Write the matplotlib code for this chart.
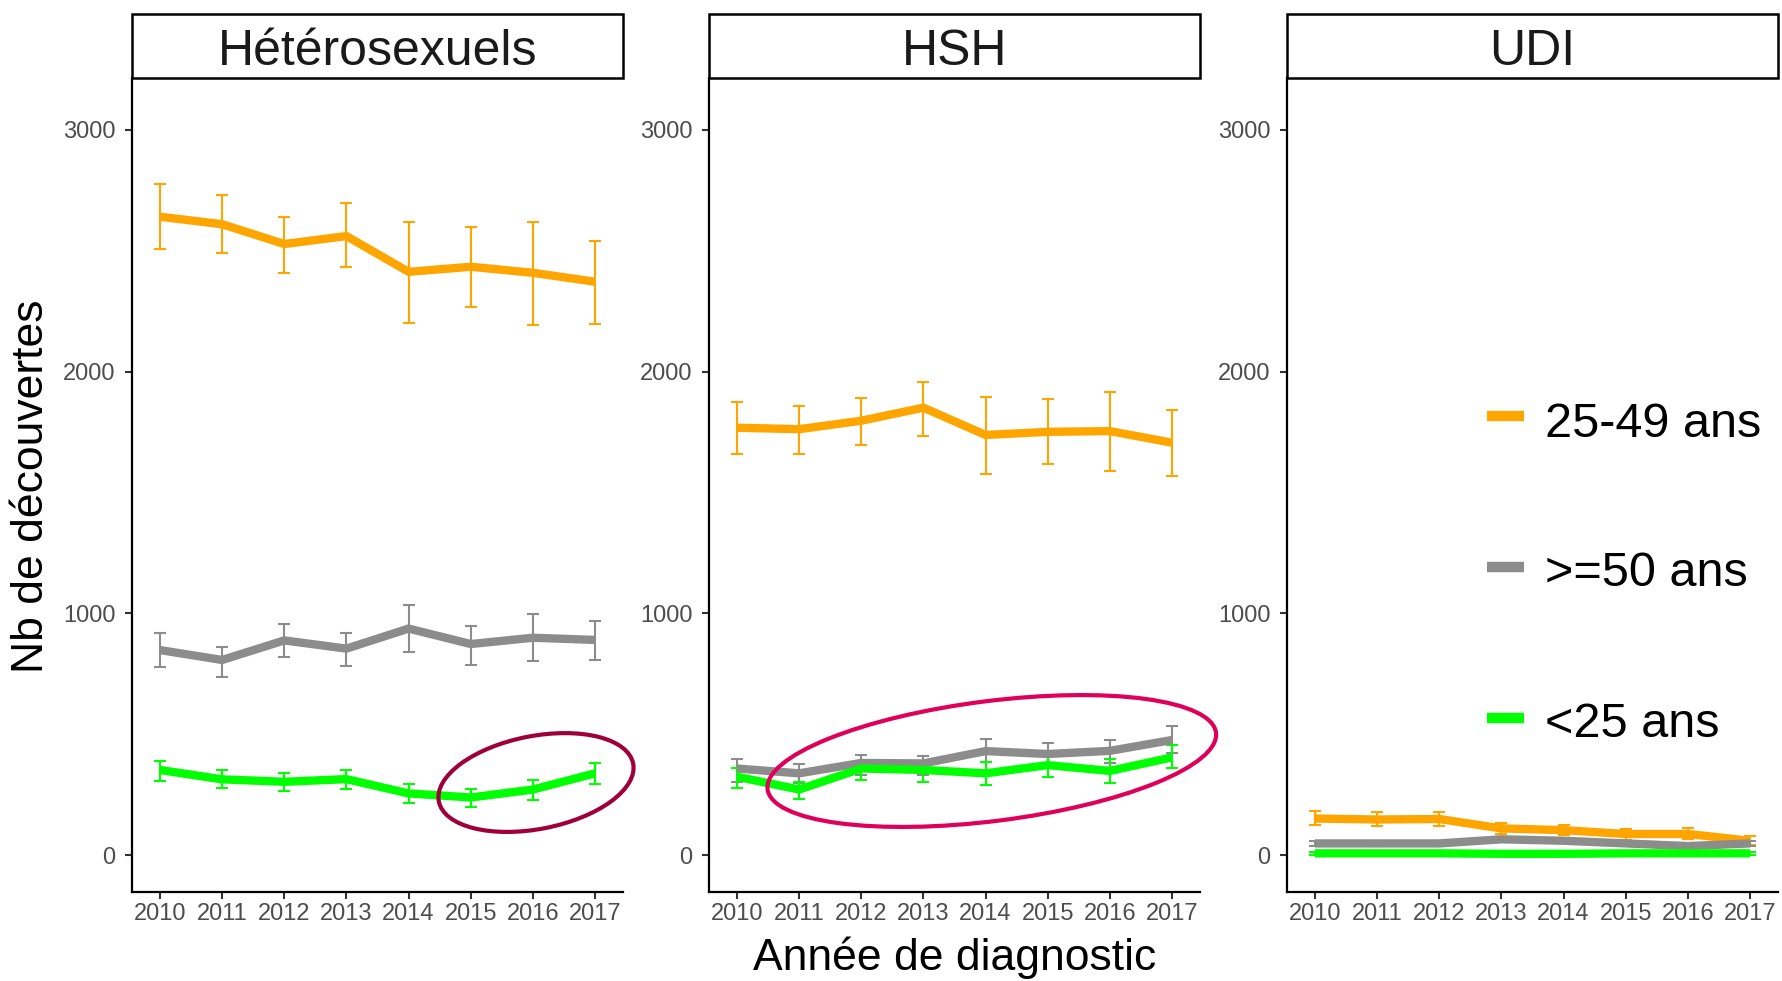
import matplotlib
matplotlib.use('Agg')
import matplotlib.pyplot as plt
from matplotlib.patches import Ellipse, Rectangle
from matplotlib.transforms import ScaledTranslation
from matplotlib.lines import Line2D

plt.rcParams['font.family'] = ['Liberation Sans', 'DejaVu Sans']

years = [2010, 2011, 2012, 2013, 2014, 2015, 2016, 2017]
panels = ['Hétérosexuels', 'HSH', 'UDI']
groups = ['25-49 ans', '>=50 ans', '<25 ans']
colors = {'25-49 ans': '#FFA500', '>=50 ans': '#8C8C8C', '<25 ans': '#00FF00'}

# Hétérosexuels
het_2549 = [2641, 2610, 2528, 2561, 2413, 2434, 2409, 2372]
het_2549_lo = [2508, 2492, 2409, 2431, 2202, 2268, 2194, 2197]
het_2549_hi = [2775, 2731, 2640, 2696, 2620, 2599, 2620, 2541]
het_50 = [848, 807, 888, 854, 937, 873, 899, 890]
het_50_lo = [779, 737, 820, 782, 841, 786, 803, 807]
het_50_hi = [920, 862, 954, 920, 1033, 947, 996, 969]
het_25 = [352, 313, 303, 314, 255, 238, 271, 338]
het_25_lo = [306, 276, 264, 274, 216, 197, 228, 294]
het_25_hi = [389, 352, 340, 352, 295, 273, 310, 379]

# HSH
hsh_2549 = [1768, 1762, 1797, 1851, 1738, 1751, 1754, 1706]
hsh_2549_lo = [1661, 1661, 1696, 1735, 1576, 1619, 1590, 1569]
hsh_2549_hi = [1873, 1859, 1892, 1957, 1896, 1885, 1916, 1841]
hsh_50 = [358, 338, 381, 379, 430, 418, 431, 476]
hsh_50_lo = [303, 300, 330, 330, 386, 365, 380, 423]
hsh_50_hi = [397, 376, 414, 410, 478, 462, 476, 534]
hsh_25 = [324, 271, 358, 352, 338, 372, 348, 404]
hsh_25_lo = [279, 230, 310, 303, 290, 324, 299, 358]
hsh_25_hi = [358, 303, 390, 386, 386, 420, 396, 455]

# UDI
udi_2549 = [151, 147, 149, 110, 103, 87, 87, 59]
udi_2549_lo = [124, 120, 122, 89, 83, 62, 65, 41]
udi_2549_hi = [182, 177, 180, 131, 124, 106, 110, 79]
udi_50 = [48, 48, 48, 65, 59, 48, 37, 48]
udi_50_lo = [38, 38, 38, 55, 49, 38, 28, 38]
udi_50_hi = [58, 58, 58, 75, 69, 58, 47, 58]
udi_25 = [7, 7, 7, 5, 5, 7, 7, 7]
udi_25_lo = [2, 2, 2, 1, 1, 2, 2, 2]
udi_25_hi = [12, 12, 12, 9, 9, 12, 12, 12]

data = {
    'Hétérosexuels': {'25-49 ans': (het_2549, het_2549_lo, het_2549_hi),
                      '>=50 ans': (het_50, het_50_lo, het_50_hi),
                      '<25 ans': (het_25, het_25_lo, het_25_hi)},
    'HSH': {'25-49 ans': (hsh_2549, hsh_2549_lo, hsh_2549_hi),
            '>=50 ans': (hsh_50, hsh_50_lo, hsh_50_hi),
            '<25 ans': (hsh_25, hsh_25_lo, hsh_25_hi)},
    'UDI': {'25-49 ans': (udi_2549, udi_2549_lo, udi_2549_hi),
            '>=50 ans': (udi_50, udi_50_lo, udi_50_hi),
            '<25 ans': (udi_25, udi_25_lo, udi_25_hi)},
}

# highlight ellipses: (panel, centre year, centre value, width in, height in, angle, colour)
ellipses = [('Hétérosexuels', 2016.05, 300, 1.98, 0.93, 11, '#A0003A'),
            ('HSH', 2014.10, 389, 4.52, 1.20, 7.2, '#E0005A')]

W, H = 1782, 981
fig = plt.figure(figsize=(W / 100, H / 100), dpi=100)
lefts = [132, 709, 1287]
ax_w = 491
top, bottom = 78, 892
strip_top = 14

axes = {}
for name, l in zip(panels, lefts):
    ax = fig.add_axes([l / W, 1 - bottom / H, ax_w / W, (bottom - top) / H])
    axes[name] = ax
    for g in groups:
        v, lo, hi = data[name][g]
        yerr = [[a - b for a, b in zip(v, lo)], [b - a for a, b in zip(v, hi)]]
        ax.errorbar(years, v, yerr=yerr, fmt='none', ecolor=colors[g],
                    elinewidth=1.5, capsize=4.3, capthick=1.5, zorder=2)
    for g in groups:
        v = data[name][g][0]
        ax.plot(years, v, color=colors[g], lw=6, solid_capstyle='butt',
                solid_joinstyle='miter', zorder=3)
    ax.set_xlim(2009.55, 2017.45)
    ax.set_ylim(-153, 3215)
    ax.set_xticks(years)
    ax.set_yticks([0, 1000, 2000, 3000])
    for s in ['top', 'right']:
        ax.spines[s].set_visible(False)
    for s in ['left', 'bottom']:
        ax.spines[s].set_linewidth(1.6)
        ax.spines[s].set_color('black')
    ax.tick_params(axis='both', labelsize=17, labelcolor='#4D4D4D',
                   length=5, width=1.5, color='#333333')
    ax.tick_params(axis='y', pad=7)
    ax.tick_params(axis='x', pad=3)
    sh = (top - strip_top) / (bottom - top)
    ax.add_patch(Rectangle((0, 1), 1, sh, transform=ax.transAxes,
                           clip_on=False, facecolor='white',
                           edgecolor='black', lw=1.8, zorder=5))
    ax.text(0.5, 1 + (bottom - 65) / (bottom - top) - 1, name,
            transform=ax.transAxes, ha='center', va='baseline',
            fontsize=36, color='#1A1A1A', zorder=6)

for name, cx, cy, ew, eh, ang, col in ellipses:
    ax = axes[name]
    e = Ellipse((0, 0), ew, eh, angle=ang,
                transform=fig.dpi_scale_trans + ScaledTranslation(cx, cy, ax.transData),
                fill=False, edgecolor=col, lw=3, clip_on=False, zorder=4)
    ax.add_artist(e)

fig.text(32 / W, 1 - 486 / H, 'Nb de découvertes', rotation=90,
         ha='center', va='center', fontsize=32)
fig.text(955 / W, 1 - 958 / H, 'Année de diagnostic',
         ha='center', va='center', fontsize=32)

# legend
key_y = [416, 567, 718]
base_y = [437, 586, 737]
for g, ky, by in zip(groups, key_y, base_y):
    fig.add_artist(Line2D([1487 / W, 1524 / W], [1 - ky / H, 1 - ky / H],
                          transform=fig.transFigure, color=colors[g], lw=7.5,
                          solid_capstyle='butt'))
    fig.text(1545 / W, 1 - by / H, g, ha='left', va='baseline', fontsize=35)

fig.savefig('out.png', dpi=100)
